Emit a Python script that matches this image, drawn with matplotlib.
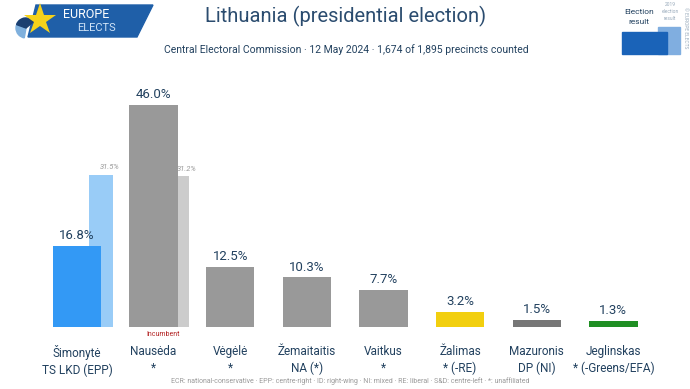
import matplotlib
matplotlib.use("Agg")
import matplotlib.pyplot as plt
from matplotlib.patches import Polygon, Rectangle, Wedge

plt.rcParams['font.family'] = ['Roboto', 'DejaVu Sans']

names = ['Šimonytė', 'Nausėda', 'Vėgėlė', 'Žemaitaitis', 'Vaitkus', 'Žalimas', 'Mazuronis', 'Jeglinskas']
parties = ['TS LKD (EPP)', '*', '*', 'NA (*)', '*', '* (-RE)', 'DP (NI)', '* (-Greens/EFA)']
votes = [16.8, 46.0, 12.5, 10.3, 7.7, 3.2, 1.5, 1.3]
colors = ['#3399f5', '#999999', '#999999', '#999999', '#999999', '#f2cf0f', '#777777', '#1f8f23']
prev_idx = [0, 1]
prev_votes = [31.5, 31.2]
prev_colors = ['#99ccf7', '#cccccc']

navy = '#22415f'

fig = plt.figure(figsize=(6.9, 3.89), dpi=100)
fig.patch.set_facecolor('white')

ax = fig.add_axes([0.056, 0.159, 0.8885, 0.621])
x = list(range(len(names)))
ax.bar([i + 0.31 for i in prev_idx], prev_votes, width=0.31, color=prev_colors, zorder=1)
ax.bar(x, votes, width=0.63, color=colors, zorder=2)
for i, v in zip(x, votes):
    ax.text(i, v + 0.8, f'{v:.1f}%', ha='center', va='bottom', fontsize=9.5, color=navy, zorder=3)
for i, v in zip(prev_idx, prev_votes):
    ax.text(i + 0.43, v + 1.0, f'{v:.1f}%', ha='center', va='bottom', fontsize=5.5,
            color='#999999', style='italic')
ax.set_xlim(-0.5, 7.5)
ax.set_ylim(0, 50)
ax.set_xticks(x)
ax.set_xticklabels([f'{n}\n{p}' for n, p in zip(names, parties)], fontsize=8.5, color=navy,
                   linespacing=1.3)
ax.tick_params(axis='x', length=0, pad=13)
ax.set_yticks([])
for s in ax.spines.values():
    s.set_visible(False)
ax.text(1.12, -0.9, 'Incumbent', ha='center', va='top', fontsize=5, color='#b22222')

# overlay in pixel coordinates for header / decorations
ov = fig.add_axes([0, 0, 1, 1], zorder=-1)
ov.set_xlim(0, 690)
ov.set_ylim(389, 0)
ov.axis('off')

ov.text(346, 16, 'Lithuania (presidential election)', ha='center', va='center',
        fontsize=14.5, color='#2b4c6f')
ov.text(346, 50, 'Central Electoral Commission · 12 May 2024 · 1,674 of 1,895 precincts counted',
        ha='center', va='center', fontsize=7.5, color=navy)
ov.text(350, 381, 'ECR: national-conservative · EPP: centre-right · ID: right-wing · NI: mixed · '
        'RE: liberal · S&D: centre-left · *: unaffiliated',
        ha='center', va='center', fontsize=5, color='#9a9a9a')

# logo
ov.add_patch(Polygon([[36, 5], [153, 5], [137, 37], [28, 37]], closed=True, color='#1f5fa8'))
ov.add_patch(Wedge((26, 28), 10, 100, 260, color='#7fb0dd'))
ov.add_patch(Wedge((26, 28), 10, 200, 320, color='#1b3f70'))
ov.plot([40], [20], marker='*', markersize=24, color='#f5d21a', markeredgewidth=0)
ov.text(86, 14, 'EUROPE', ha='center', va='center', fontsize=9, color='white')
ov.text(96, 28, 'ELECTS', ha='center', va='center', fontsize=8, color='#cfe3f7')

# legend icon top right
ov.add_patch(Rectangle((658, 27), 22, 27, color='#80aee0'))
ov.add_patch(Rectangle((622, 32), 45, 22, color='#1a63b8'))
ov.text(639, 12, 'Election', ha='center', va='center', fontsize=6, color=navy)
ov.text(639, 22, 'result', ha='center', va='center', fontsize=6, color=navy)
ov.text(670, 4, '2019', ha='center', va='center', fontsize=3.5, color='#9ab')
ov.text(670, 11, 'election', ha='center', va='center', fontsize=3.5, color='#9ab')
ov.text(670, 18, 'result', ha='center', va='center', fontsize=3.5, color='#9ab')
ov.text(686, 28, '© EUROPE ELECTS', ha='center', va='center', fontsize=3.5, color='#9ab',
        rotation=270)

fig.savefig('out.png', dpi=100)
